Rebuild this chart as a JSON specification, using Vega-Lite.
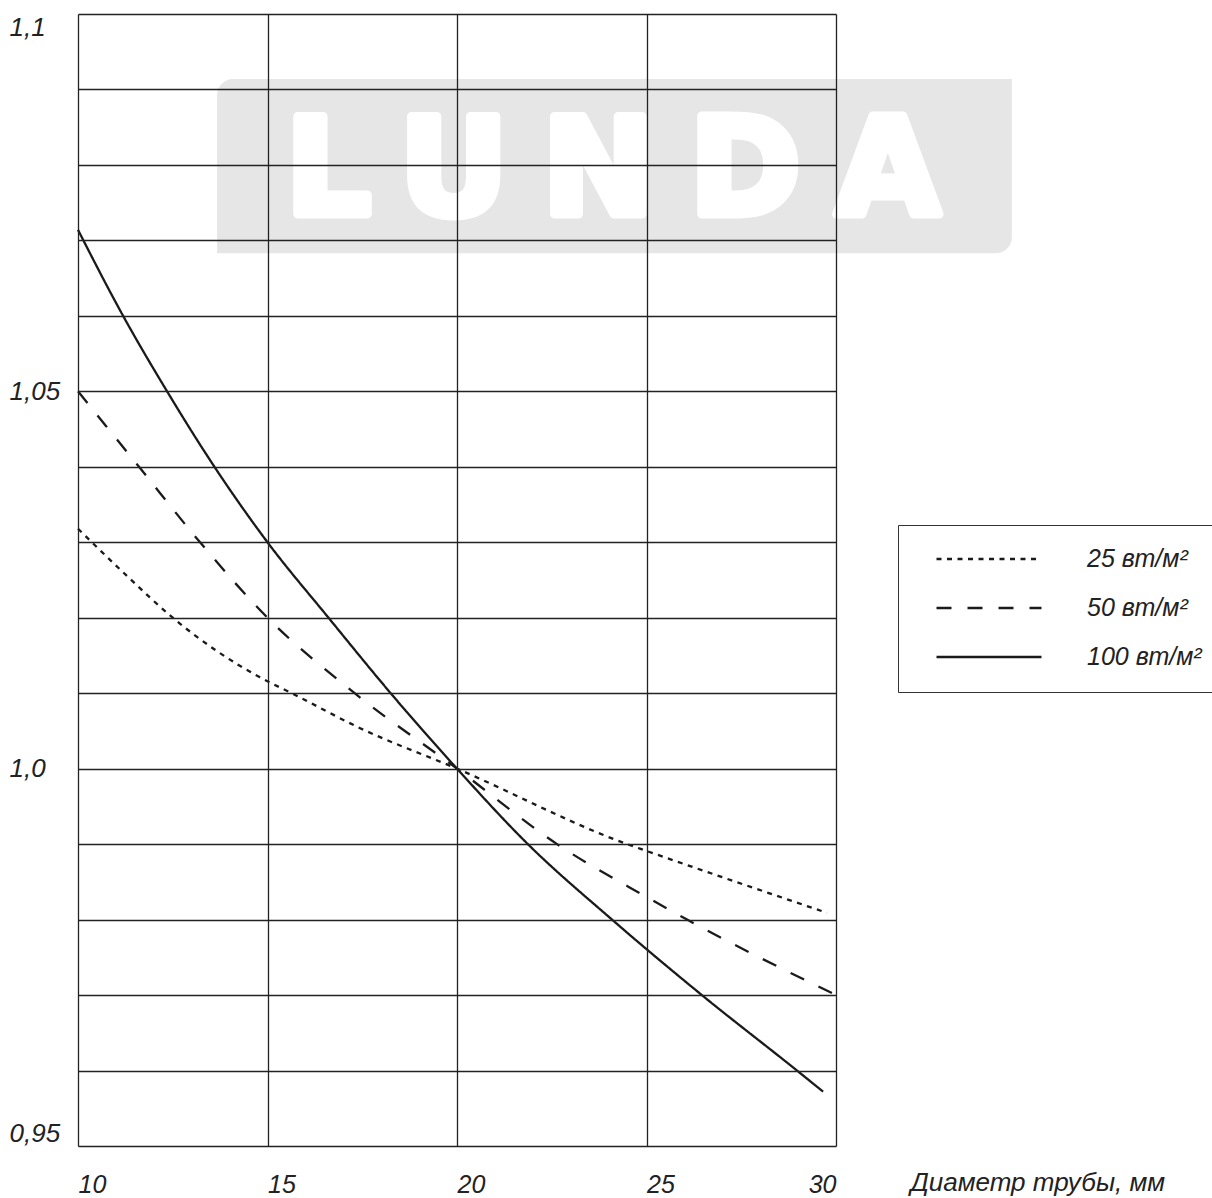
{
  "$schema": "https://vega.github.io/schema/vega-lite/v6.json",
  "width": 758,
  "height": 1132,
  "autosize": {"type": "none"},
  "padding": {"left": 78, "top": 14, "right": 376, "bottom": 52},
  "background": "white",
  "config": {
    "view": {"stroke": null},
    "font": "Liberation Sans"
  },
  "datasets": {
    "watermark": [
      {"d": 13.67, "d2": 34.64, "k": 1.0914, "k2": 1.0683}
    ],
    "letters": [
      {"ch": "L", "d": 16.6, "k": 1.0735},
      {"ch": "U", "d": 19.91, "k": 1.0735},
      {"ch": "N", "d": 23.73, "k": 1.0735},
      {"ch": "D", "d": 27.6, "k": 1.0735},
      {"ch": "A", "d": 31.37, "k": 1.0735}
    ],
    "curves": [
      {"s": "25 вт/м²", "d": 10, "k": 1.0318},
      {"s": "25 вт/м²", "d": 11.3, "k": 1.0255},
      {"s": "25 вт/м²", "d": 12.5, "k": 1.02},
      {"s": "25 вт/м²", "d": 14.8, "k": 1.0121},
      {"s": "25 вт/м²", "d": 15.64, "k": 1.01},
      {"s": "25 вт/м²", "d": 17.43, "k": 1.0054},
      {"s": "25 вт/м²", "d": 20, "k": 1.0},
      {"s": "25 вт/м²", "d": 24.49, "k": 0.99},
      {"s": "25 вт/м²", "d": 25, "k": 0.9891},
      {"s": "25 вт/м²", "d": 29.76, "k": 0.9809},
      {"s": "50 вт/м²", "d": 10, "k": 1.05},
      {"s": "50 вт/м²", "d": 11.61, "k": 1.04},
      {"s": "50 вт/м²", "d": 13.22, "k": 1.03},
      {"s": "50 вт/м²", "d": 15, "k": 1.02},
      {"s": "50 вт/м²", "d": 17.3, "k": 1.01},
      {"s": "50 вт/м²", "d": 20, "k": 1.0},
      {"s": "50 вт/м²", "d": 22.64, "k": 0.99},
      {"s": "50 вт/м²", "d": 25, "k": 0.983},
      {"s": "50 вт/м²", "d": 26.07, "k": 0.98},
      {"s": "50 вт/м²", "d": 30, "k": 0.97},
      {"s": "100 вт/м²", "d": 10, "k": 1.0714},
      {"s": "100 вт/м²", "d": 11.19, "k": 1.06},
      {"s": "100 вт/м²", "d": 12.35, "k": 1.05},
      {"s": "100 вт/м²", "d": 13.6, "k": 1.04},
      {"s": "100 вт/м²", "d": 15, "k": 1.03},
      {"s": "100 вт/м²", "d": 16.61, "k": 1.02},
      {"s": "100 вт/м²", "d": 18.25, "k": 1.01},
      {"s": "100 вт/м²", "d": 20, "k": 1.0},
      {"s": "100 вт/м²", "d": 21.87, "k": 0.99},
      {"s": "100 вт/м²", "d": 24.09, "k": 0.98},
      {"s": "100 вт/м²", "d": 26.46, "k": 0.97},
      {"s": "100 вт/м²", "d": 28.97, "k": 0.96},
      {"s": "100 вт/м²", "d": 29.66, "k": 0.9572}
    ]
  },
  "encoding": {
    "x": {
      "field": "d",
      "type": "quantitative",
      "scale": {"domain": [10, 30], "nice": false, "zero": false},
      "axis": {
        "values": [10, 15, 20, 25, 30],
        "grid": true,
        "gridColor": "#222",
        "gridWidth": 1.3,
        "gridOpacity": 1,
        "domain": false,
        "ticks": false,
        "zindex": 1,
        "labelFont": "Liberation Sans",
        "labelFontSize": 25,
        "labelFontStyle": "italic",
        "labelColor": "#222",
        "labelPadding": 26,
        "labelBaseline": "top",
        "labelFlush": false,
        "labelOverlap": false,
        "labelAlign": {"condition": {"test": "datum.value == 30", "value": "right"}, "value": "left"},
        "title": "Диаметр трубы, мм",
        "titleFont": "Liberation Sans",
        "titleFontSize": 26,
        "titleFontStyle": "italic",
        "titleFontWeight": "normal",
        "titleColor": "#222",
        "titleAlign": "left",
        "titleBaseline": "top",
        "titleX": 832,
        "titleY": 23
      }
    },
    "y": {
      "field": "k",
      "type": "quantitative",
      "scale": {"domain": [0.95, 1.1], "nice": false, "zero": false},
      "axis": {
        "values": [0.95, 0.96, 0.97, 0.98, 0.99, 1, 1.01, 1.02, 1.03, 1.04, 1.05, 1.06, 1.07, 1.08, 1.09, 1.1],
        "grid": true,
        "gridColor": "#222",
        "gridWidth": 1.3,
        "gridOpacity": 1,
        "domain": false,
        "ticks": false,
        "zindex": 1,
        "labelExpr": "datum.value == 1.1 ? '1,1' : datum.value == 1.05 ? '1,05' : datum.value == 1 ? '1,0' : datum.value == 0.95 ? '0,95' : ''",
        "labelFont": "Liberation Sans",
        "labelFontSize": 26,
        "labelFontStyle": "italic",
        "labelColor": "#222",
        "labelAlign": "left",
        "labelPadding": 69,
        "labelFlush": true,
        "labelOverlap": false,
        "title": null
      }
    }
  },
  "layer": [
    {
      "data": {"name": "watermark"},
      "mark": {"type": "rect", "color": "#e6e6e6", "cornerRadiusTopLeft": 16, "cornerRadiusBottomRight": 16},
      "encoding": {
        "x2": {"field": "d2"},
        "y2": {"field": "k2"}
      }
    },
    {
      "data": {"name": "letters"},
      "mark": {"type": "text", "font": "DejaVu Sans", "fontSize": 134, "fontWeight": "bold", "color": "white", "stroke": "white", "strokeWidth": 9, "strokeJoin": "round", "align": "center", "baseline": "alphabetic"},
      "encoding": {
        "text": {"field": "ch"}
      }
    },
    {
      "data": {"name": "curves"},
      "mark": {"type": "line", "interpolate": "monotone", "strokeWidth": 2.3, "color": "#1a1a1a"},
      "encoding": {
        "detail": {"field": "s"},
        "strokeDash": {
          "field": "s",
          "type": "nominal",
          "scale": {
            "domain": ["25 вт/м²", "50 вт/м²", "100 вт/м²"],
            "range": [[5, 5.5], [15, 16], [1, 0]]
          },
          "legend": {
            "orient": "none",
            "legendX": 820,
            "legendY": 511,
            "title": null,
            "symbolType": "stroke",
            "symbolSize": 11025,
            "symbolStrokeWidth": 2.3,
            "symbolStrokeColor": "#1a1a1a",
            "clipHeight": 24,
            "rowPadding": 24,
            "padding": 22,
            "symbolOffset": 15,
            "labelOffset": 44,
            "labelFont": "Liberation Sans",
            "labelFontSize": 25,
            "labelFontStyle": "italic",
            "labelColor": "#222",
            "labelLimit": 400,
            "strokeColor": "#333"
          }
        }
      }
    }
  ]
}
